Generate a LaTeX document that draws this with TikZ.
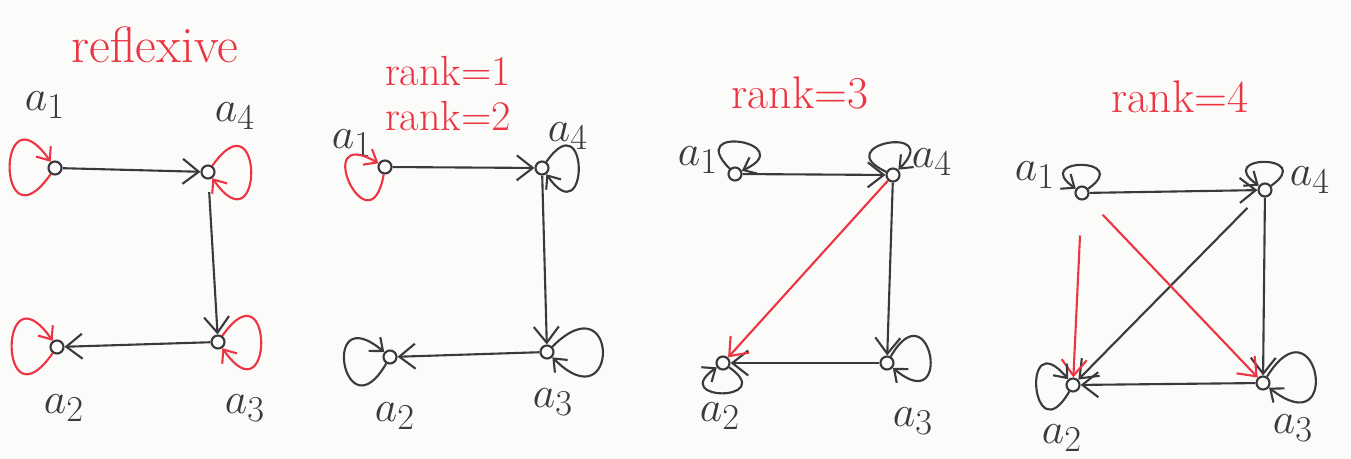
\documentclass[tikz,border=0pt]{standalone}
\usetikzlibrary{arrows.meta}
\definecolor{pen}{RGB}{58,58,62}
\definecolor{redpen}{RGB}{236,52,66}
\definecolor{paper}{RGB}{251,251,249}
\begin{document}
\begin{tikzpicture}[x=0.02cm,y=0.02cm,
  vtx/.style={circle,draw=pen,line width=1.2pt,minimum size=0.26cm,inner sep=0pt},
  lbl/.style={text=pen,font=\fontsize{30}{34}\selectfont,inner sep=0pt},
  ttl/.style={text=redpen,font=\fontsize{26}{30}\selectfont,inner sep=0pt},
  tip/.style={-{Straight Barb[length=3.2mm,width=5mm,line width=1.2pt]}},
  ltip/.style={-{Straight Barb[length=2.2mm,width=3.6mm,line width=1.2pt]}},
  blk/.style={draw=pen,line width=1.2pt,tip},
  rd/.style={draw=redpen,line width=1.2pt,tip},
  bl/.style={draw=pen,line width=1.2pt,ltip},
  rl/.style={draw=redpen,line width=1.2pt,ltip}]
% paper
\fill[paper] (0,0) rectangle (1351,-459);
\useasboundingbox (0,0) rectangle (1351,-459);

% ---------- reflexive ----------
\node[ttl,font=\fontsize{29}{32}\selectfont] (t1) at (155,-45) {reflexive};
\node[vtx] (p1a1) at (55,-168) {};
\node[vtx] (p1a4) at (208,-172) {};
\node[vtx] (p1a3) at (218,-342) {};
\node[vtx] (p1a2) at (57,-347) {};
\node[lbl] (l1a1) at (45,-105) {$a_1$};
\node[lbl] (l1a4) at (235,-116) {$a_4$};
\node[lbl] (l1a2) at (64,-408) {$a_2$};
\node[lbl] (l1a3) at (245,-408) {$a_3$};
\draw[blk] (p1a1) -- (p1a4);
\draw[blk,shorten <=0.25cm] (p1a4) -- (p1a3);
\draw[blk] (p1a3) -- (p1a2);
\draw[rl] (p1a1) to[out=235,in=125,min distance=1.9cm] (p1a1);
\draw[rl] (p1a4) to[out=55,in=-55,min distance=1.8cm] (p1a4);
\draw[rl] (p1a3) to[out=55,in=-55,min distance=1.8cm] (p1a3);
\draw[rl] (p1a2) to[out=235,in=125,min distance=1.9cm] (p1a2);

% ---------- rank 1 / rank 2 ----------
\node[ttl,font=\fontsize{24}{28}\selectfont] (t2a) at (448,-71) {rank=1};
\node[ttl,font=\fontsize{24}{28}\selectfont] (t2b) at (448,-116) {rank=2};
\node[vtx] (p2a1) at (385,-167) {};
\node[vtx] (p2a4) at (542,-168) {};
\node[vtx] (p2a3) at (547,-352) {};
\node[vtx] (p2a2) at (390,-357) {};
\node[lbl] (l2a1) at (352,-143) {$a_1$};
\node[lbl] (l2a4) at (568,-136) {$a_4$};
\node[lbl] (l2a2) at (395,-416) {$a_2$};
\node[lbl] (l2a3) at (553,-402) {$a_3$};
\draw[blk] (p2a1) -- (p2a4);
\draw[blk] (p2a4) -- (p2a3);
\draw[blk] (p2a3) -- (p2a2);
\draw[rl] (p2a1) to[out=260,in=150,min distance=1.6cm] (p2a1);
\draw[bl] (p2a4) to[out=55,in=-55,min distance=1.5cm] (p2a4);
\draw[bl] (p2a3) to[out=45,in=-45,min distance=1.9cm] (p2a3);
\draw[bl] (p2a2) to[out=240,in=140,min distance=1.7cm] (p2a2);

% ---------- rank 3 ----------
\node[ttl] (t3) at (800,-93) {rank=3};
\node[vtx] (p3a1) at (735,-174) {};
\node[vtx] (p3a4) at (893,-175) {};
\node[vtx] (p3a3) at (887,-363) {};
\node[vtx] (p3a2) at (723,-363) {};
\node[lbl] (l3a1) at (698,-160) {$a_1$};
\node[lbl] (l3a4) at (932,-162) {$a_4$};
\node[lbl] (l3a2) at (720,-416) {$a_2$};
\node[lbl] (l3a3) at (913,-421) {$a_3$};
\draw[blk] (p3a1) -- (p3a4);
\draw[blk] (p3a4) -- (p3a3);
\draw[blk] (p3a3) -- (p3a2);
\draw[rd] (p3a4) -- (p3a2);
\draw[bl] (p3a1) to[out=135,in=25,min distance=1.3cm] (p3a1);
\draw[bl] (p3a4) to[out=155,in=45,min distance=1.3cm] (p3a4);
\draw[bl] (p3a3) to[out=60,in=-40,min distance=1.6cm] (p3a3);
\draw[bl] (p3a2) to[out=-35,in=215,min distance=1.2cm] (p3a2);

% ---------- rank 4 ----------
\node[ttl] (t4) at (1180,-97) {rank=4};
\node[vtx] (p4a1) at (1082,-193) {};
\node[vtx] (p4a4) at (1265,-190) {};
\node[vtx] (p4a3) at (1263,-383) {};
\node[vtx] (p4a2) at (1073,-385) {};
\node[lbl] (l4a1) at (1035,-175) {$a_1$};
\node[lbl] (l4a4) at (1310,-180) {$a_4$};
\node[lbl] (l4a2) at (1062,-438) {$a_2$};
\node[lbl] (l4a3) at (1293,-428) {$a_3$};
\draw[blk] (p4a1) -- (p4a4);
\draw[blk] (p4a4) -- (p4a3);
\draw[blk] (p4a3) -- (p4a2);
\draw[blk,shorten <=0.35cm] (p4a4) -- (p4a2);
\draw[rd,shorten <=0.7cm] (p4a1) -- (p4a2);
\draw[rd,shorten <=0.45cm] (p4a1) -- (p4a3);
\draw[bl] (p4a1) to[out=35,in=145,min distance=1.1cm] (p4a1);
\draw[bl] (p4a4) to[out=35,in=145,min distance=1.1cm] (p4a4);
\draw[bl] (p4a3) to[out=58,in=-38,min distance=1.9cm] (p4a3);
\draw[bl] (p4a2) to[out=240,in=130,min distance=1.5cm] (p4a2);
\end{tikzpicture}
\end{document}
